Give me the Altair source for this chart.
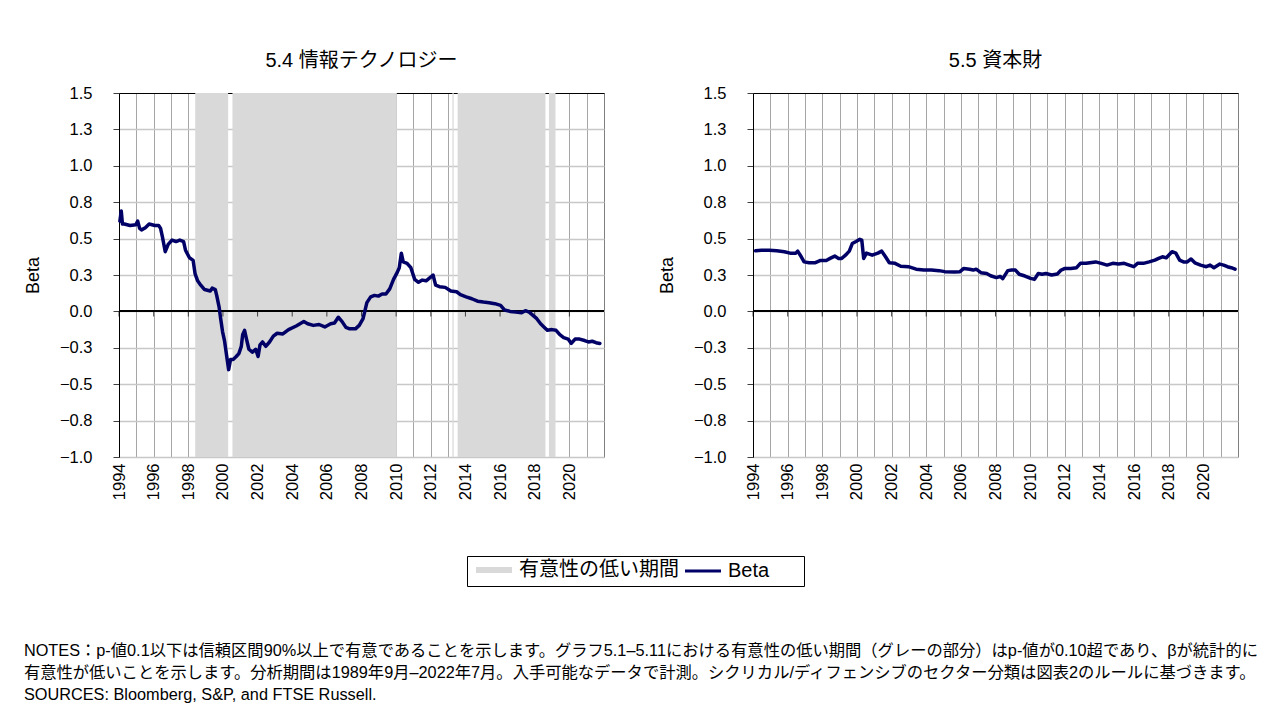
import altair as alt
import pandas as pd

# ---------------- data ----------------
IT_YEARS = [1994.05, 1994.13, 1994.20, 1994.31, 1994.64, 1994.97, 1995.08, 1995.19, 1995.30, 1995.52,
            1995.74, 1996.07, 1996.29, 1996.40, 1996.51, 1996.67, 1996.84, 1997.06, 1997.29, 1997.51,
            1997.73, 1997.84, 1998.06, 1998.28, 1998.39, 1998.54, 1998.72, 1998.94, 1999.27, 1999.38,
            1999.56, 1999.64, 1999.78, 1999.87, 1999.98, 2000.09, 2000.22, 2000.33, 2000.44, 2000.59,
            2000.77, 2000.92, 2001.06, 2001.14, 2001.25, 2001.36, 2001.50, 2001.70, 2001.89, 2002.03,
            2002.14, 2002.29, 2002.47, 2002.69, 2002.91, 2003.13, 2003.46, 2003.79, 2004.23, 2004.67,
            2004.89, 2005.22, 2005.55, 2005.88, 2006.22, 2006.44, 2006.66, 2006.88, 2007.10, 2007.32,
            2007.65, 2007.87, 2008.09, 2008.31, 2008.53, 2008.75, 2008.97, 2009.19, 2009.41, 2009.63,
            2009.85, 2010.07, 2010.18, 2010.30, 2010.41, 2010.63, 2010.85, 2011.07, 2011.29, 2011.51,
            2011.73, 2011.99, 2012.13, 2012.28, 2012.50, 2012.83, 2013.16, 2013.49, 2013.71, 2014.04,
            2014.37, 2014.70, 2015.04, 2015.37, 2015.70, 2016.03, 2016.25, 2016.58, 2016.91, 2017.24,
            2017.46, 2017.68, 2017.90, 2018.12, 2018.34, 2018.56, 2018.73, 2019.00, 2019.23, 2019.45,
            2019.67, 2019.93, 2020.11, 2020.33, 2020.59, 2020.88, 2021.10, 2021.32, 2021.54, 2021.76]
IT_BETA = [0.62, 0.69, 0.60, 0.60, 0.59, 0.595, 0.62, 0.57, 0.56, 0.575,
           0.60, 0.59, 0.59, 0.57, 0.51, 0.41, 0.46, 0.49, 0.48, 0.49,
           0.48, 0.42, 0.37, 0.35, 0.26, 0.21, 0.18, 0.15, 0.14, 0.16,
           0.15, 0.11, 0.03, -0.05, -0.14, -0.20, -0.31, -0.40, -0.33, -0.33,
           -0.31, -0.29, -0.24, -0.16, -0.13, -0.19, -0.26, -0.28, -0.26, -0.31,
           -0.23, -0.21, -0.24, -0.21, -0.17, -0.15, -0.155, -0.125, -0.10, -0.07,
           -0.085, -0.096, -0.09, -0.107, -0.085, -0.08, -0.04, -0.07, -0.11, -0.12,
           -0.12, -0.096, -0.05, 0.06, 0.10, 0.11, 0.105, 0.12, 0.12, 0.155,
           0.22, 0.27, 0.30, 0.40, 0.34, 0.33, 0.30, 0.22, 0.20, 0.215,
           0.21, 0.235, 0.25, 0.18, 0.17, 0.165, 0.14, 0.135, 0.115, 0.10,
           0.087, 0.07, 0.064, 0.06, 0.053, 0.041, 0.01, 0.0, -0.005, -0.01,
           0.005, -0.005, -0.027, -0.05, -0.085, -0.11, -0.13, -0.125, -0.13, -0.16,
           -0.18, -0.19, -0.22, -0.19, -0.19, -0.20, -0.21, -0.205, -0.215, -0.22]

CG_YEARS = [1994.15, 1994.49, 1994.93, 1995.37, 1995.81, 1996.14, 1996.47, 1996.58, 1996.73, 1996.95,
            1997.24, 1997.57, 1997.90, 1998.23, 1998.45, 1998.72, 1998.94, 1999.12, 1999.34, 1999.56,
            1999.73, 1999.95, 2000.17, 2000.28, 2000.39, 2000.55, 2000.88, 2001.21, 2001.43, 2001.65,
            2001.87, 2002.20, 2002.53, 2002.97, 2003.42, 2003.86, 2004.30, 2004.74, 2005.07, 2005.62,
            2005.95, 2006.17, 2006.50, 2006.72, 2006.88, 2007.16, 2007.49, 2007.72, 2008.05, 2008.27,
            2008.42, 2008.71, 2008.93, 2009.15, 2009.37, 2009.70, 2010.03, 2010.25, 2010.47, 2010.69,
            2010.91, 2011.24, 2011.57, 2011.79, 2012.01, 2012.35, 2012.68, 2012.90, 2013.23, 2013.56,
            2013.78, 2014.11, 2014.44, 2014.77, 2015.10, 2015.43, 2015.76, 2015.98, 2016.20, 2016.54,
            2016.87, 2017.20, 2017.42, 2017.64, 2017.86, 2018.19, 2018.41, 2018.63, 2018.85, 2019.07,
            2019.29, 2019.51, 2019.84, 2020.17, 2020.39, 2020.61, 2020.95, 2021.17, 2021.39, 2021.61,
            2021.83]
CG_BETA = [0.416, 0.42, 0.42, 0.416, 0.41, 0.40, 0.40, 0.414, 0.386, 0.34,
           0.334, 0.334, 0.35, 0.35, 0.364, 0.38, 0.364, 0.364, 0.386, 0.414,
           0.466, 0.48, 0.495, 0.49, 0.364, 0.40, 0.386, 0.40, 0.414, 0.375,
           0.334, 0.33, 0.31, 0.307, 0.29, 0.284, 0.284, 0.28, 0.273, 0.27,
           0.273, 0.295, 0.29, 0.284, 0.29, 0.266, 0.26, 0.245, 0.232, 0.24,
           0.225, 0.28, 0.284, 0.284, 0.255, 0.243, 0.227, 0.22, 0.26, 0.255,
           0.26, 0.25, 0.257, 0.284, 0.295, 0.295, 0.30, 0.33, 0.33, 0.336,
           0.34, 0.33, 0.318, 0.33, 0.325, 0.33, 0.316, 0.307, 0.33, 0.33,
           0.34, 0.352, 0.364, 0.375, 0.368, 0.41, 0.40, 0.352, 0.34, 0.34,
           0.36, 0.334, 0.318, 0.307, 0.318, 0.30, 0.325, 0.318, 0.307, 0.30,
           0.29]

# low-significance periods (grey) for 5.4
BAND_START = [1998.40, 2000.55, 2013.25, 2013.55, 2018.82]
BAND_END = [2000.30, 2010.04, 2013.32, 2018.62, 2019.20]

Y_TICKS = [-1.0, -0.75, -0.5, -0.25, 0.0, 0.25, 0.5, 0.75, 1.0, 1.25, 1.5]
GRID_YEARS = list(range(1994, 2022))
ZERO_TICK_YEARS = list(range(1994, 2021, 2))
X_DOMAIN = [1994, 2022]
Y_DOMAIN = [-1.0, 1.5]

TITLES = ["5.4 情報テクノロジー", "5.5 資本財"]
SERIES = ["有意性の低い期間", "Beta"]
NOTES = [
    "NOTES：p-値0.1以下は信頼区間90%以上で有意であることを示します。グラフ5.1–5.11における有意性の低い期間（グレーの部分）はp-値が0.10超であり、βが統計的に",
    "有意性が低いことを示します。分析期間は1989年9月–2022年7月。入手可能なデータで計測。シクリカル/ディフェンシブのセクター分類は図表2のルールに基づきます。",
    "SOURCES: Bloomberg, S&P, and FTSE Russell.",
]

# ---------------- styling ----------------
FONT = "Liberation Sans, Noto Sans CJK JP"
W, H = 485, 364
LINE_COLOR = "#000066"
BAND_COLOR = "#d9d9d9"
BLANK = "\u2800"  # blank glyph (not trimmed) to pad the legend box on the right

x_scale = alt.Scale(domain=X_DOMAIN, nice=False, zero=False)
y_scale = alt.Scale(domain=Y_DOMAIN, nice=False, zero=False)

x_axis = alt.Axis(
    values=GRID_YEARS, format="d",
    labelExpr="datum.value % 2 === 0 ? datum.label : ''",
    labelAngle=270, ticks=False, domain=False, grid=True,
    gridColor="#a6a6a6", gridWidth=1,
    labelFont=FONT, labelFontSize=16.5, labelColor="black", labelPadding=6,
    labelOverlap=False, labelFlush=False, title=None,
)
y_axis = alt.Axis(
    values=Y_TICKS, format=".1f", title="Beta",
    titleFont=FONT, titleFontSize=18, titleFontWeight="normal", titleColor="black",
    titlePadding=17,
    labelFont=FONT, labelFontSize=16.5, labelColor="black", labelPadding=21,
    labelOverlap=False, labelFlush=False,
    tickSize=6, tickColor="#404040",
    domain=True, domainColor="black", domainWidth=1,
    grid=True,
    gridColor={"condition": {"test": "datum.value === 1.5", "value": "black"}, "value": "#c8c8c8"},
    gridWidth={"condition": {"test": "datum.value === 1.5", "value": 1}, "value": 1.5},
)

legend = alt.Legend(
    title=None, orient="none", legendX=348, legendY=463, direction="horizontal",
    symbolType="stroke", symbolSize=1296, symbolOffset=13,
    symbolStrokeWidth={"expr": "datum.value === 'Beta' ? 3 : 6"},
    labelFont=FONT, labelFontSize=20, labelColor="black", labelOffset=15,
    columnPadding=0, strokeColor="black", padding=4, fillColor="white",
    labelExpr="datum.value === 'Beta' ? 'Beta" + BLANK * 2 + "' : datum.label",
)
stroke_enc = alt.Stroke("series:N", scale=alt.Scale(domain=SERIES, range=[BAND_COLOR, LINE_COLOR]),
                        legend=legend)


def ydatum(v):
    return alt.YDatum(v, scale=y_scale, axis=y_axis)


def panel(title, years, betas, band_start=None, band_end=None):
    line_df = pd.DataFrame({"year": years, "beta": betas, "series": SERIES[1]})
    tick_df = pd.DataFrame({"tick": ZERO_TICK_YEARS})
    layers = []
    if band_start:
        band_df = pd.DataFrame({"start": band_start, "end": band_end, "series": SERIES[0]})
        layers.append(
            alt.Chart(band_df).mark_rect(fill=BAND_COLOR, strokeWidth=0).encode(
                x=alt.X("start:Q", scale=x_scale, axis=x_axis),
                x2="end:Q",
                y=ydatum(Y_DOMAIN[1]),
                y2=alt.datum(Y_DOMAIN[0]),
                stroke=stroke_enc,
            )
        )
    layers.append(
        alt.Chart(line_df).mark_rule(color="black", strokeWidth=1).encode(y=ydatum(0))
    )
    layers.append(
        alt.Chart(tick_df).mark_tick(color="black", thickness=1, size=5, yOffset=2.5,
                                     orient="vertical").encode(
            x=alt.X("tick:Q", scale=x_scale, axis=x_axis),
            y=ydatum(0),
        )
    )
    layers.append(
        alt.Chart(line_df).mark_line(strokeWidth=3.5, strokeJoin="round", strokeCap="round").encode(
            x=alt.X("year:Q", scale=x_scale, axis=x_axis),
            y=alt.Y("beta:Q", scale=y_scale, axis=y_axis),
            stroke=stroke_enc,
        )
    )
    return alt.layer(*layers).properties(
        width=W, height=H,
        title=alt.TitleParams(title, font=FONT, fontSize=20, fontWeight="normal",
                              color="black", offset=14),
    )


left = panel(TITLES[0], IT_YEARS, IT_BETA, BAND_START, BAND_END)
right = panel(TITLES[1], CG_YEARS, CG_BETA)

chart = (
    alt.hconcat(left, right, spacing=52)
    .properties(
        title=alt.TitleParams(NOTES, orient="bottom", anchor="start", font=FONT, fontSize=16.3,
                              fontWeight="normal", color="black", lineHeight=22, offset=56),
        padding={"left": 15, "top": 42, "right": 5, "bottom": 0},
    )
    .resolve_scale(stroke="shared")
    .configure_view(stroke="#7f7f7f", strokeWidth=1)
)

chart.save("out.html", embed_options={"renderer": "svg", "actions": False})
